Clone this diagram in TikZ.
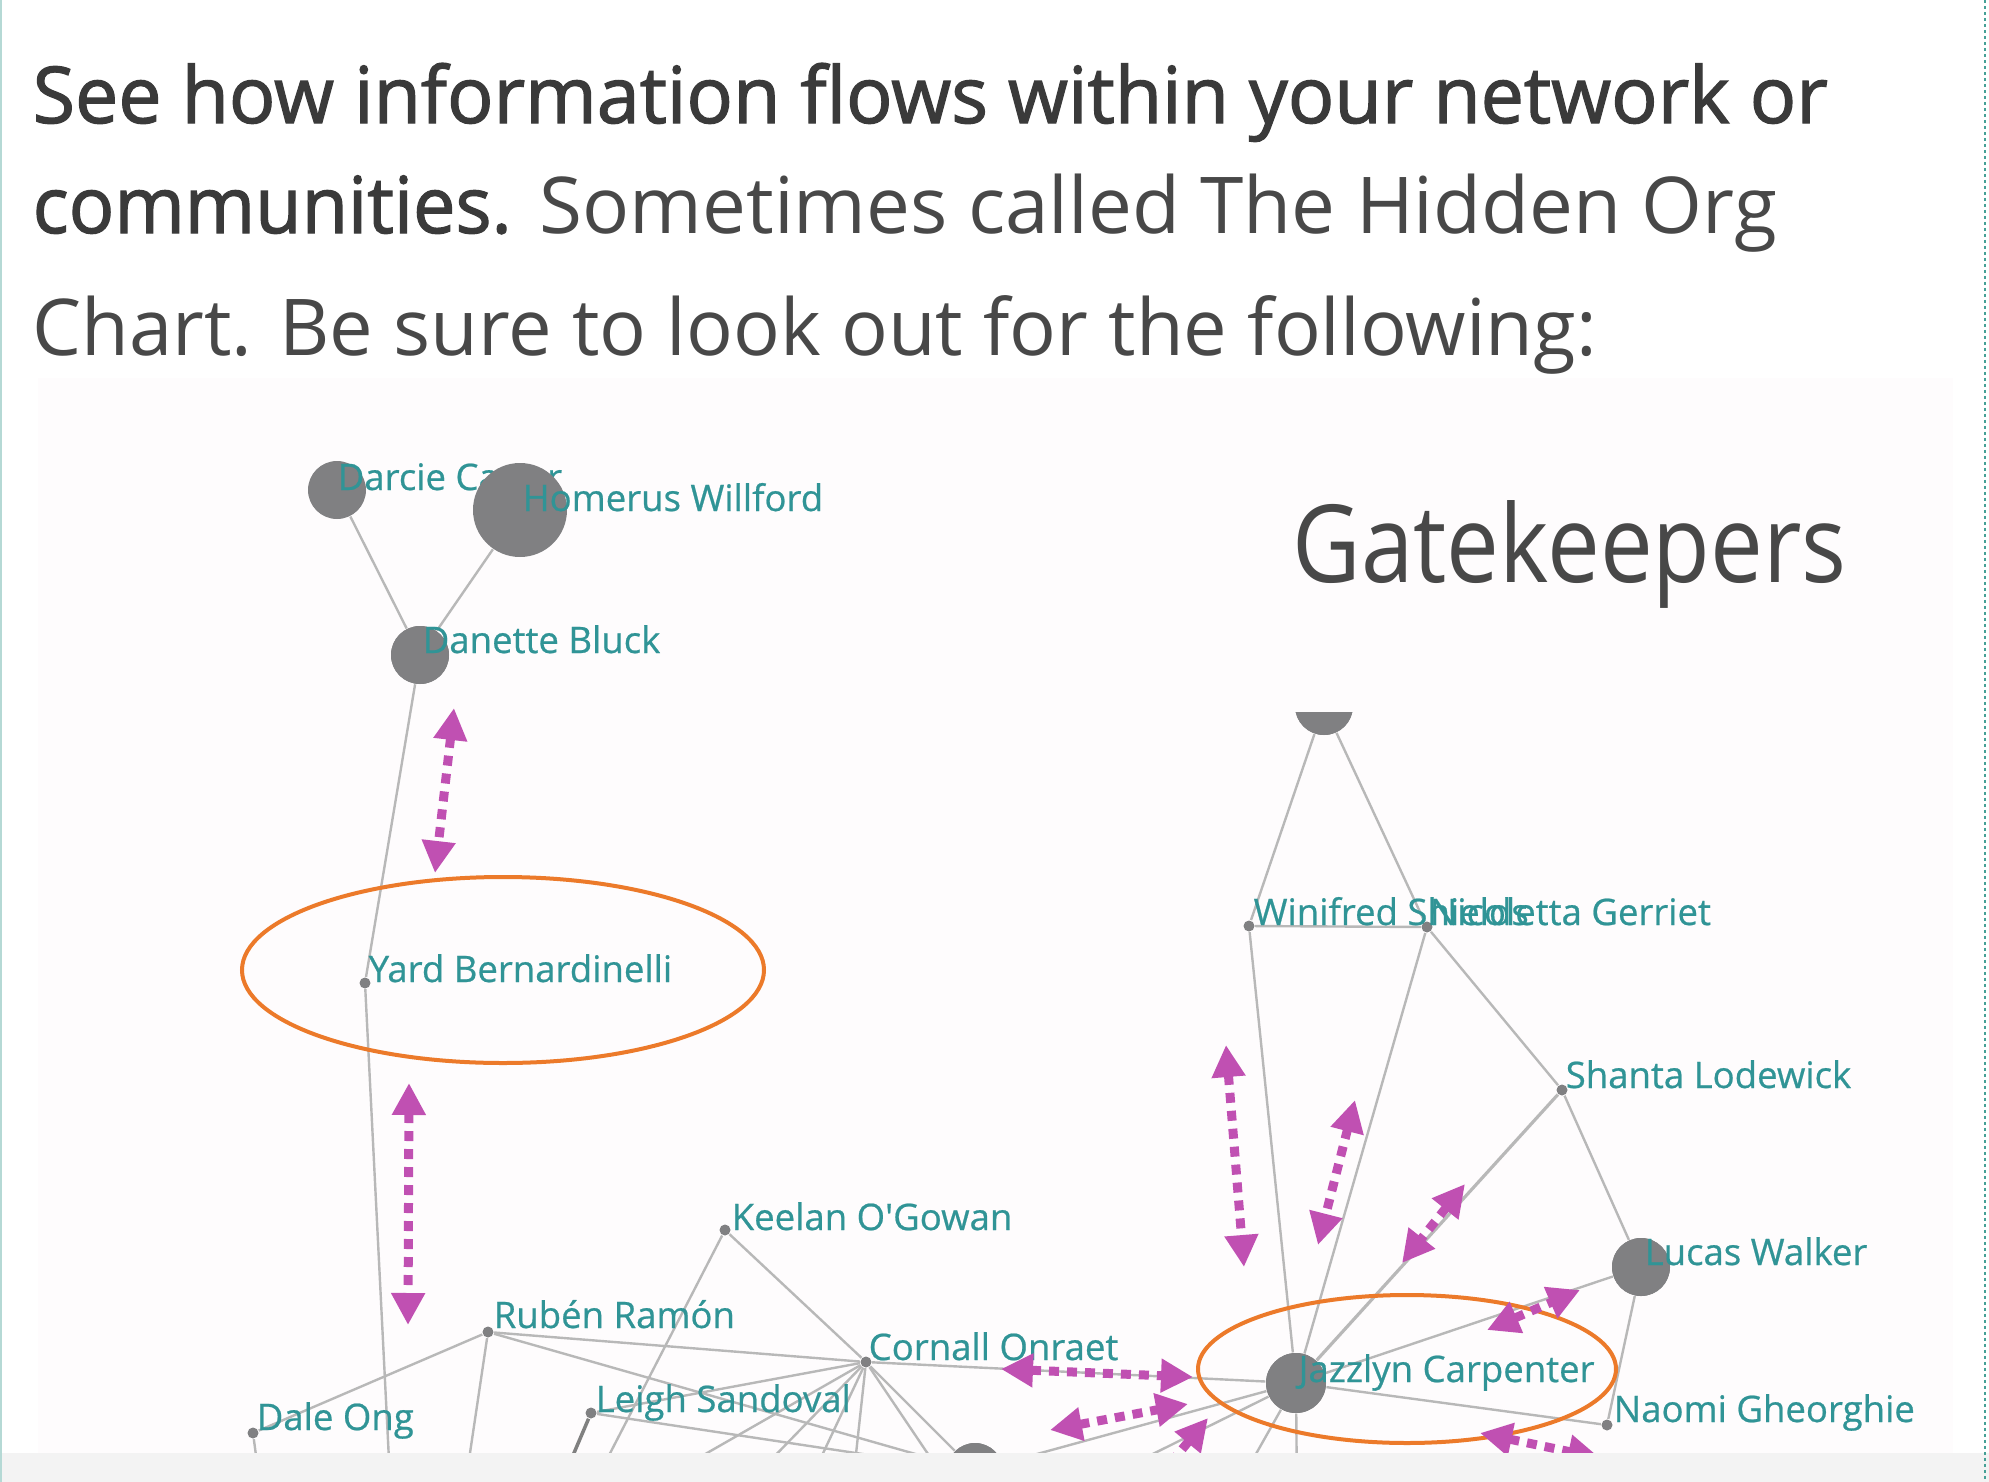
\documentclass[tikz,border=0pt]{standalone}
\usepackage{fontspec}
\setmainfont{Open Sans}
\newfontfamily\semifont{Open Sans}[FakeBold=1.6]
\newfontfamily\namefont{Open Sans}[FakeBold=0.6]
\usepackage{graphicx}
\usetikzlibrary{arrows.meta}
\definecolor{inkgray}{RGB}{58,58,58}
\definecolor{lightink}{RGB}{72,72,72}
\definecolor{nodegray}{RGB}{128,128,130}
\definecolor{edgegray}{RGB}{184,184,184}
\definecolor{nameteal}{RGB}{48,148,150}
\definecolor{flowpink}{RGB}{192,80,178}
\definecolor{ringorange}{RGB}{236,122,42}
\definecolor{panel}{RGB}{254,252,253}
\definecolor{band}{RGB}{243,243,243}
\definecolor{rimteal}{RGB}{70,160,150}
\tikzset{
	head/.style={anchor=base west, inner sep=0pt, text=inkgray, font=\fontsize{22.3}{26}\selectfont},
	hub/.style={circle, fill=nodegray, inner sep=0pt, minimum size=#1},
	dot/.style={circle, fill=nodegray, inner sep=0pt, minimum size=1.1mm},
	who/.style={anchor=base west, inner sep=0pt, text=nameteal, font=\namefont\fontsize{10.4}{12}\selectfont},
	link/.style={draw=edgegray, line width=0.24mm},
	flow/.style={draw=flowpink, line width=0.9mm, dash pattern=on 1mm off 0.8mm,
		{Triangle[length=3.2mm,width=3.2mm]}-{Triangle[length=3.2mm,width=3.2mm]}},
	ring/.style={draw=ringorange, line width=0.4mm}
}

\begin{document}
\begin{tikzpicture}[x=0.1mm, y=-0.1mm]
	\useasboundingbox (0,0) rectangle (1989,1482);
	\fill[white] (0,0) rectangle (1989,1482);
	\fill[panel] (38,378) rectangle (1953,1453);
	
	% --- Heading ---
	\node[head] (line1) at (32,123) {\resizebox{179.5mm}{\height}{\semifont See how information flows within your network or}};
	\node[head] (line2) at (32,233) {\resizebox{47.9mm}{\height}{\semifont communities.}\hspace{2.8mm}\resizebox{123.7mm}{\height}{\color{lightink}Sometimes called The Hidden Org}};
	\node[head, text=lightink] (line3) at (32,355) {\resizebox{156.4mm}{\height}{Chart. Be sure to look out for the following:}};
	
	\begin{scope}
		\clip (38,378) rectangle (1953,1453);
		
		% --- People ---
		\node[hub=5.8mm] (topnode) at (1324,706) {};
		\node[hub=5.8mm] (darcie) at (337,490) {};
		\node[hub=5.8mm] (danette) at (420,655) {};
		\node[dot] (yard) at (365,983) {};
		\node[dot] (keelan) at (725,1230) {};
		\node[dot] (ruben) at (488,1332) {};
		\node[dot] (cornall) at (866,1362) {};
		\node[dot] (leigh) at (591,1413) {};
		\node[dot] (dale) at (253,1433) {};
		\node[hub=5.6mm] (bernette) at (975,1471) {};
		\node[dot] (winifred) at (1249,926) {};
		\node[dot] (nicoletta) at (1427,927) {};
		\node[dot] (shanta) at (1562,1090) {};
		\node[hub=5.8mm] (lucas) at (1641,1267) {};
		\node[hub=6mm] (jazzlyn) at (1296,1383) {};
		\node[dot] (naomi) at (1607,1425) {};
		
		% links that run off the bottom
		\coordinate (yardtail) at (391,1500);
		\coordinate (keelantail) at (586,1500);
		\coordinate (rubentail) at (463,1500);
		\coordinate (daletail) at (262,1500);
		\coordinate (leightail) at (554,1500);
		\coordinate (cornA) at (625,1500);
		\coordinate (cornB) at (732,1500);
		\coordinate (cornC) at (801,1500);
		\coordinate (cornD) at (851,1500);
		\coordinate (cornE) at (959,1500);
		\coordinate (jazzA) at (1060,1500);
		\coordinate (jazzB) at (1230,1500);
		\coordinate (jazzC) at (1297,1500);
		
		% --- Links ---
		\draw[link] (darcie) -- (danette);
		\draw[link] (danette) -- (yard) -- (yardtail);
		\draw[link] (topnode) -- (winifred);
		\draw[link] (topnode) -- (nicoletta);
		\draw[link] (winifred) -- (nicoletta);
		\draw[link] (winifred) -- (jazzlyn);
		\draw[link] (nicoletta) -- (jazzlyn);
		\draw[link] (nicoletta) -- (shanta);
		\draw[link, line width=0.32mm] (shanta) -- (jazzlyn);
		\draw[link] (shanta) -- (lucas);
		\draw[link] (lucas) -- (jazzlyn);
		\draw[link] (lucas) -- (naomi);
		\draw[link] (jazzlyn) -- (naomi);
		\draw[link] (jazzlyn) -- (cornall);
		\draw[link] (jazzlyn) -- (bernette);
		\foreach \t in {jazzA,jazzB,jazzC} \draw[link] (jazzlyn) -- (\t);
		\draw[link] (keelan) -- (cornall);
		\draw[link] (keelan) -- (keelantail);
		\draw[link] (ruben) -- (cornall);
		\draw[link] (ruben) -- (dale);
		\draw[link] (ruben) -- (rubentail);
		\draw[link] (ruben) -- (bernette);
		\draw[link] (dale) -- (daletail);
		\draw[link, line width=0.35mm, draw=gray] (leigh) -- (leightail);
		\draw[link] (leigh) -- (bernette);
		\draw[link] (cornall) -- (leigh);
		\draw[link] (cornall) -- (bernette);
		\foreach \t in {cornA,cornB,cornC,cornD,cornE} \draw[link] (cornall) -- (\t);
		
		% nodes again on top of the links
		\node[hub=5.8mm] at (topnode) {};
		\node[hub=5.6mm] at (bernette) {};
		\node[hub=6mm] at (jazzlyn) {};
		\node[hub=5.8mm] at (lucas) {};
		
		% --- Names ---
		\node[who] (darcielabel) at (337,490) {Darcie Carter};
		\node[hub=9.4mm] (homerus) at (520,510) {};
		\draw[link] (homerus) -- (danette);
		\node[hub=5.8mm] at (danette) {};
		\node[who] (homeruslabel) at (522,511) {Homerus Willford};
		\node[who] (danettelabel) at (422,653) {Danette Bluck};
		\node[who] (yardlabel) at (368,982) {Yard Bernardinelli};
		\node[who] (keelanlabel) at (731,1230) {Keelan O'Gowan};
		\node[who] (rubenlabel) at (493,1328) {Rubén Ramón};
		\node[who] (cornalllabel) at (868,1360) {Cornall Onraet};
		\node[who] (leighlabel) at (595,1412) {Leigh Sandoval};
		\node[who] (dalelabel) at (256,1430) {Dale Ong};
		\node[who] (winifredlabel) at (1253,925) {Winifred Shields};
		\node[who] (nicolettalabel) at (1429,925) {Nicoletta Gerriet};
		\node[who] (shantalabel) at (1565,1088) {Shanta Lodewick};
		\node[who] (lucaslabel) at (1644,1265) {Lucas Walker};
		\node[who] (jazzlynlabel) at (1298,1382) {Jazzlyn Carpenter};
		\node[who] (naomilabel) at (1613,1422) {Naomi Gheorghie};
		
		% --- Title box ---
		\fill[panel] (1260,390) rectangle (1945,712);
		\node[anchor=base west, inner sep=0pt, text=lightink, font=\fontsize{30.7}{36}\selectfont] (gatekeepers) at (1292,582) {\resizebox{55.4mm}{\height}{Gatekeepers}};
		
		% --- Gatekeeper rings ---
		\draw[ring] (503,970) ellipse [x radius=261, y radius=93];
		\draw[ring] (1407,1369) ellipse [x radius=209, y radius=74];
		
		% --- Flows ---
		\coordinate (f1a) at (454,708);   \coordinate (f1b) at (435,873);
		\coordinate (f2a) at (409,1083);  \coordinate (f2b) at (408,1325);
		\coordinate (f3a) at (1226,1045); \coordinate (f3b) at (1244,1267);
		\coordinate (f4a) at (1355,1100); \coordinate (f4b) at (1318,1245);
		\coordinate (f5a) at (1465,1184); \coordinate (f5b) at (1402,1263);
		\coordinate (f6a) at (1487,1330); \coordinate (f6b) at (1580,1290);
		\coordinate (f7a) at (1001,1369); \coordinate (f7b) at (1193,1377);
		\coordinate (f8a) at (1050,1430); \coordinate (f8b) at (1188,1404);
		\coordinate (f9a) at (1140,1500); \coordinate (f9b) at (1208,1418);
		\coordinate (f10a) at (1480,1433); \coordinate (f10b) at (1600,1458);
		\foreach \n in {1,...,10} \draw[flow] (f\n a) -- (f\n b);
	\end{scope}
	
	% --- Frame ---
	\fill[band] (0,1453) rectangle (1989,1482);
	\draw[rimteal, line width=0.25mm, dash pattern=on 0.3mm off 0.3mm] (1985,0) -- (1985,1482);
	\draw[rimteal!40, line width=0.15mm] (1,0) -- (1,1482);
\end{tikzpicture}
\end{document}
